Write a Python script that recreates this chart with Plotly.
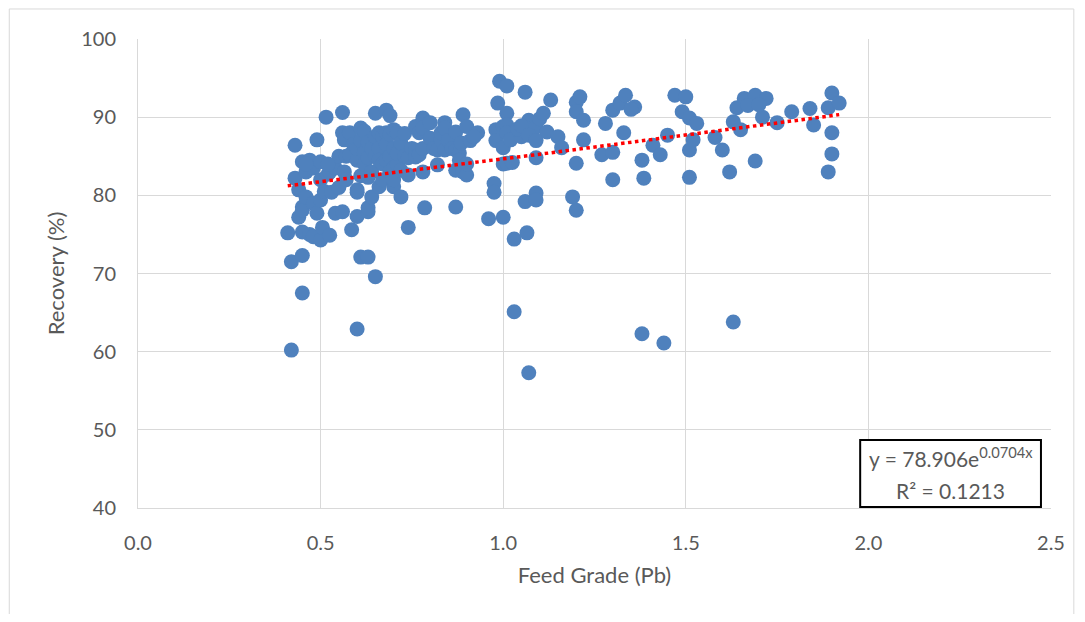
import numpy as np
import plotly.graph_objects as go

# Feed grade (Pb) and recovery (%)
feed_left = [0.41, 0.42, 0.42, 0.43, 0.43, 0.44, 0.44, 0.45, 0.45, 0.45, 0.45, 0.45, 0.45, 0.46, 0.46,
             0.47, 0.47, 0.48, 0.48, 0.48, 0.49, 0.49, 0.50, 0.50, 0.50, 0.50, 0.505, 0.51, 0.515, 0.52,
             0.525, 0.525, 0.53, 0.54, 0.54, 0.55, 0.55, 0.46, 0.52]
rec_left = [75.2, 71.5, 60.2, 86.4, 82.2, 80.7, 77.2, 84.3, 75.3, 72.3, 67.5, 78.5, 78.1, 79.8, 83.0,
            84.5, 75.0, 83.5, 79.0, 74.7, 87.1, 77.7, 84.3, 82.0, 79.4, 74.3, 75.9, 80.5, 90.0, 82.7,
            74.9, 83.0, 80.4, 77.7, 83.5, 85.0, 81.0, 84.0, 84.0]

feed_mid = [0.56, 0.56, 0.56, 0.565, 0.565, 0.57, 0.57, 0.58, 0.58, 0.585, 0.59, 0.60, 0.60, 0.60, 0.60,
            0.60, 0.60, 0.61, 0.61, 0.61, 0.61, 0.62, 0.62, 0.62, 0.63, 0.63, 0.63, 0.63, 0.63, 0.63,
            0.64, 0.64, 0.64, 0.65, 0.65, 0.65, 0.65, 0.66, 0.66, 0.66, 0.66, 0.67, 0.67, 0.67, 0.68,
            0.68, 0.68, 0.68, 0.69, 0.69, 0.69, 0.69, 0.70, 0.70, 0.70, 0.70, 0.70, 0.71, 0.71, 0.71,
            0.72, 0.72, 0.72, 0.73, 0.73, 0.74, 0.74, 0.74, 0.75, 0.76, 0.76, 0.76, 0.77, 0.77, 0.78,
            0.78, 0.78, 0.785, 0.78, 0.80, 0.80, 0.81, 0.82, 0.82, 0.83, 0.83, 0.84, 0.84, 0.84, 0.85,
            0.86, 0.87, 0.87, 0.87, 0.87, 0.88, 0.885, 0.88, 0.89, 0.89, 0.90, 0.90, 0.90, 0.91, 0.93,
            0.92]
rec_mid = [90.6, 88.0, 77.9, 87.1, 83.0, 82.0, 85.0, 85.2, 88.0, 75.6, 86.5, 80.7, 80.4, 84.5, 86.0,
           77.3, 62.9, 88.6, 72.1, 82.5, 87.0, 85.5, 84.0, 88.2, 86.8, 72.1, 77.9, 82.3, 84.8, 78.4,
           79.8, 83.0, 86.0, 90.5, 69.6, 87.5, 85.0, 81.1, 86.0, 88.0, 84.5, 84.0, 82.0, 87.5, 90.9,
           88.0, 86.5, 84.5, 90.2, 85.0, 83.0, 87.8, 88.4, 86.0, 81.1, 83.5, 82.0, 84.0, 88.0, 85.4,
           79.8, 86.7, 83.2, 85.0, 87.9, 75.9, 82.6, 84.8, 86.0, 88.8, 85.8, 84.9, 85.2, 88.0, 89.9,
           86.0, 83.0, 78.4, 88.6, 89.3, 87.3, 86.0, 83.9, 85.8, 87.1, 88.0, 89.3, 85.8, 88.6, 87.0,
           86.0, 88.1, 83.2, 78.5, 85.8, 85.4, 86.7, 84.5, 90.3, 83.0, 82.6, 84.0, 88.8, 87.0, 88.0,
           87.5]

feed_midright = [0.96, 0.975, 0.975, 0.985, 0.98, 0.98, 0.99, 1.0, 1.0, 1.0, 1.0, 1.01, 1.01, 1.01,
                 1.01, 1.01, 1.02, 1.025, 1.03, 1.03, 1.05, 1.06, 1.06, 1.065, 1.07, 1.07, 1.08, 1.09,
                 1.09, 1.09, 1.09, 1.10, 1.11, 1.12, 1.13, 1.15, 1.16, 1.19, 1.20, 1.20, 1.20, 1.20,
                 1.21, 1.22, 1.22, 1.04, 1.05, 1.07, 1.09]
rec_midright = [77.0, 81.5, 80.4, 91.8, 88.4, 87.0, 94.6, 77.2, 84.0, 86.1, 88.8, 94.0, 90.5, 89.0,
                88.0, 84.1, 87.1, 84.2, 74.4, 65.1, 87.5, 93.2, 79.2, 75.2, 89.6, 57.3, 88.0, 88.8,
                84.8, 80.3, 79.4, 89.8, 90.5, 88.1, 92.2, 87.5, 86.1, 79.8, 91.9, 90.7, 84.1, 78.1,
                92.6, 89.6, 87.1, 88.5, 88.9, 87.7, 87.0]

feed_right = [1.27, 1.28, 1.30, 1.30, 1.30, 1.32, 1.33, 1.335, 1.36, 1.35, 1.38, 1.38, 1.385, 1.41,
              1.43, 1.44, 1.45, 1.47, 1.50, 1.49, 1.51, 1.51, 1.51, 1.52, 1.53, 1.58, 1.60, 1.62,
              1.63, 1.63, 1.64, 1.65, 1.66, 1.69, 1.69, 1.71, 1.72, 1.75, 1.79, 1.84, 1.85, 1.89,
              1.90, 1.92, 1.90, 1.90, 1.89, 1.67, 1.70]
rec_right = [85.2, 89.2, 90.9, 85.5, 82.0, 91.8, 88.0, 92.8, 91.3, 91.0, 84.5, 62.3, 82.2, 86.4,
             85.2, 61.1, 87.7, 92.8, 92.6, 90.7, 89.9, 85.8, 82.3, 87.1, 89.2, 87.4, 85.8, 83.0,
             63.8, 89.4, 91.2, 88.4, 92.4, 92.8, 84.4, 90.0, 92.4, 89.3, 90.7, 91.1, 89.0, 91.2,
             93.1, 91.8, 88.0, 85.3, 83.0, 91.5, 91.6]

feed_grade = feed_left + feed_mid + feed_midright + feed_right
recovery = rec_left + rec_mid + rec_midright + rec_right

# Exponential trendline as shown in the chart
trend_a = 78.906
trend_b = 0.0704
r_squared = 0.1213

x_tick_vals = [0.0, 0.5, 1.0, 1.5, 2.0, 2.5]
y_tick_vals = [40, 50, 60, 70, 80, 90, 100]

trend_x = np.linspace(min(feed_grade), max(feed_grade), 60)
trend_y = trend_a * np.exp(trend_b * trend_x)

fig = go.Figure()
fig.add_trace(go.Scatter(
    x=feed_grade, y=recovery, mode="markers",
    marker=dict(size=15, color="#4F81BD", line=dict(width=0)),
    showlegend=False, hoverinfo="x+y",
))
fig.add_trace(go.Scatter(
    x=trend_x, y=trend_y, mode="lines",
    line=dict(color="#FF0000", width=3.5, dash="dot"),
    showlegend=False, hoverinfo="skip",
))

font_family = "Lato, 'Open Sans', sans-serif"
grid_col = "#D9D9D9"
text_col = "#595959"

fig.update_layout(
    width=1069, height=606,
    margin=dict(l=130, r=24, t=31, b=106),
    paper_bgcolor="white", plot_bgcolor="white",
    font=dict(family=font_family, size=20, color=text_col),
    xaxis=dict(
        range=[0, 2.5], tickvals=x_tick_vals, tickformat=".1f",
        showgrid=True, gridcolor=grid_col, gridwidth=1,
        showline=True, linecolor=grid_col, linewidth=1,
        zeroline=False, ticks="", ticklen=0, ticklabelstandoff=17,
        tickfont=dict(size=20, color=text_col),
        title=dict(text="Feed Grade (Pb)", font=dict(size=22, color=text_col), standoff=14),
    ),
    yaxis=dict(
        range=[40, 100], tickvals=y_tick_vals,
        showgrid=True, gridcolor=grid_col, gridwidth=1,
        showline=True, linecolor=grid_col, linewidth=1,
        zeroline=False, ticks="", ticklen=0, ticklabelstandoff=17,
        tickfont=dict(size=20, color=text_col),
        title=dict(text="Recovery (%)", font=dict(size=22, color=text_col), standoff=10),
    ),
    shapes=[
        dict(type="rect", xref="paper", yref="paper",
             x0=-0.141, x1=1.025, y0=-0.26, y1=1.064,
             line=dict(color=grid_col, width=1), fillcolor="rgba(0,0,0,0)", layer="below"),
        dict(type="rect", xref="paper", yref="paper",
             x0=0.791, x1=0.989, y0=0.002, y1=0.145,
             line=dict(color="black", width=2), fillcolor="white", layer="above"),
    ],
    annotations=[
        dict(xref="paper", yref="paper", x=0.89, y=0.108, xanchor="center", yanchor="middle",
             text=f"y = {trend_a}e<sup>{trend_b}x</sup>", showarrow=False,
             font=dict(size=21, color=text_col, family=font_family)),
        dict(xref="paper", yref="paper", x=0.89, y=0.038, xanchor="center", yanchor="middle",
             text=f"R² = {r_squared}", showarrow=False,
             font=dict(size=21, color=text_col, family=font_family)),
    ],
)

fig.write_html("out.html")
